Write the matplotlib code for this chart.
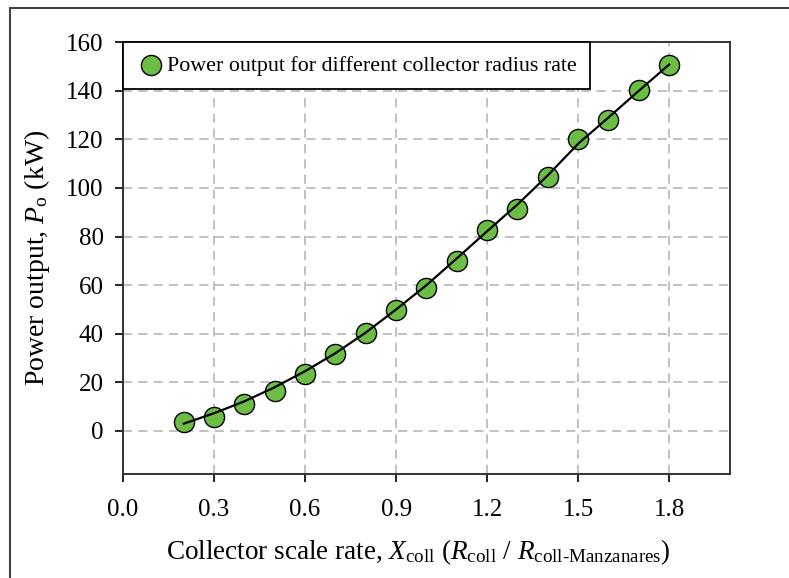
import matplotlib
matplotlib.use("Agg")
import matplotlib.pyplot as plt
from matplotlib.patches import Rectangle

# collector scale rate and power output (kW)
x_rate = [0.2, 0.3, 0.4, 0.5, 0.6, 0.7, 0.8, 0.9, 1.0, 1.1, 1.2, 1.3, 1.4, 1.5, 1.6, 1.7, 1.8]
power = [3.6, 5.9, 11.0, 16.6, 23.4, 31.8, 40.2, 49.9, 58.9, 69.8, 82.6, 91.4, 104.6, 120.2, 128.0, 140.2, 150.8]

# fitted trend line
fit_x = [0.2, 0.3, 0.4, 0.5, 0.6, 0.7, 0.8, 0.9, 1.0, 1.1, 1.2, 1.3, 1.4, 1.5, 1.6, 1.7, 1.8]
fit_y = [3.0, 7.3, 12.2, 18.0, 24.6, 32.0, 40.5, 50.0, 60.0, 71.0, 82.2, 93.2, 105.2, 118.2, 129.0, 140.0, 150.8]

xticks = [0.0, 0.3, 0.6, 0.9, 1.2, 1.5, 1.8]
yticks = [0, 20, 40, 60, 80, 100, 120, 140, 160]

plt.rcParams['font.family'] = ['Liberation Serif', 'DejaVu Serif']
plt.rcParams['mathtext.fontset'] = 'custom'
plt.rcParams['mathtext.rm'] = 'Liberation Serif'
plt.rcParams['mathtext.it'] = 'Liberation Serif:italic'

fig = plt.figure(figsize=(7.89, 5.78), dpi=100)
ax = fig.add_axes([0.156, 0.180, 0.769, 0.747])

ax.set_xlim(0, 2.0)
ax.set_ylim(-17.7, 160)
ax.set_xticks(xticks)
ax.set_xticklabels(["%.1f" % v for v in xticks])
ax.set_yticks(yticks)

ax.grid(True, color='#b0b0b0', linestyle=(0, (6, 4)), linewidth=1.1)
ax.set_axisbelow(True)

ax.scatter(x_rate, power, s=210, color='#6cbd45', edgecolor='black', linewidth=1.0,
           zorder=3, label='Power output for different collector radius rate')
ax.plot(fit_x, fit_y, color='black', linewidth=1.6, zorder=4)

for sp in ax.spines.values():
    sp.set_color('#333333')
    sp.set_linewidth(1.4)

ax.tick_params(direction='out', length=6, width=1.2, colors='black', labelsize=18, pad=12)
ax.tick_params(axis='y', pad=8)

ax.set_xlabel(r'Collector scale rate, $X_{\mathrm{coll}}$ ($R_{\mathrm{coll}}$ / $R_{\mathrm{coll\text{-}Manzanares}}$)',
              fontsize=19.5)
ax.xaxis.set_label_coords(0.486, -0.147)
ax.set_ylabel(r'Power output, $P_{\mathrm{o}}$ (kW)', fontsize=20, labelpad=10)

leg = ax.legend(loc='upper left', bbox_to_anchor=(0, 1), borderaxespad=0, fontsize=15.8,
                frameon=True, fancybox=False, framealpha=1, edgecolor='black',
                handletextpad=0.1, borderpad=0.6, handlelength=1.3)
leg.get_frame().set_linewidth(1.3)

fig.add_artist(Rectangle((10 / 789, -0.2), 1.5, 1.2 - 8 / 578, transform=fig.transFigure,
                         fill=False, edgecolor='#444444', linewidth=1.5, clip_on=False))

fig.savefig("out.png", dpi=100)
